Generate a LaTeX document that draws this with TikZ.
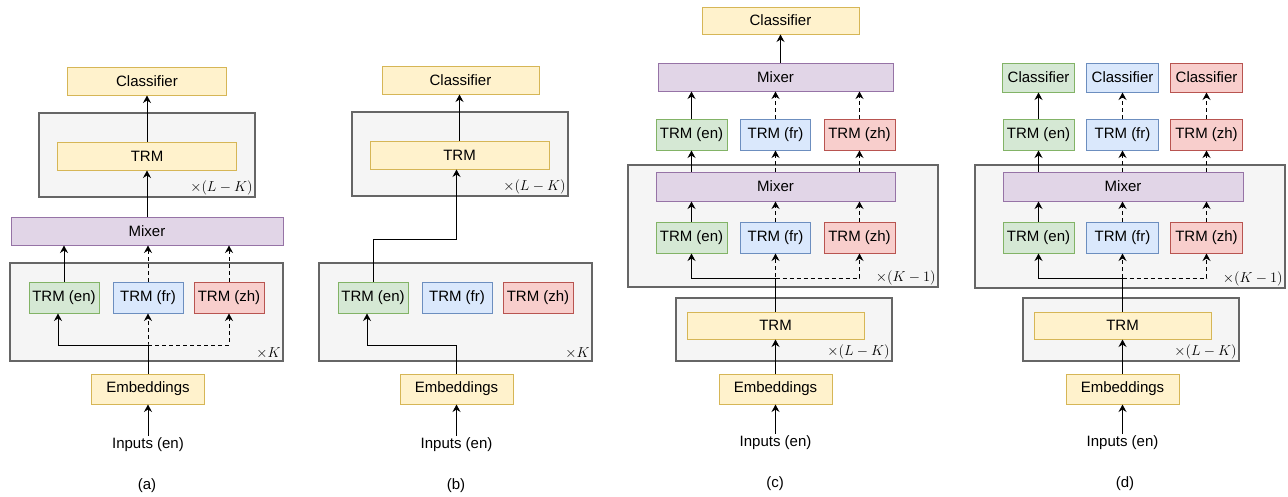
\documentclass[tikz,border=0pt]{standalone}
\usepackage{fontspec}
\setmainfont{Liberation Sans}
\usetikzlibrary{arrows.meta}

\definecolor{ylwfill}{HTML}{FFF2CC}
\definecolor{ylwline}{HTML}{D6B656}
\definecolor{grnfill}{HTML}{D5E8D4}
\definecolor{grnline}{HTML}{82B366}
\definecolor{blufill}{HTML}{DAE8FC}
\definecolor{bluline}{HTML}{6C8EBF}
\definecolor{redfill}{HTML}{F8CECC}
\definecolor{redline}{HTML}{B85450}
\definecolor{mixfill}{HTML}{E1D5E7}
\definecolor{mixline}{HTML}{9673A6}
\definecolor{grpfill}{HTML}{F5F5F5}
\definecolor{grpline}{HTML}{666666}

\begin{document}
\begin{tikzpicture}[x=1pt,y=-1pt,>={Stealth[length=7.5pt,width=8pt,inset=2.5pt]},
                    font=\fontsize{15}{18}\selectfont,node distance=84pt]
    \tikzset{box/.style={draw,rectangle,inner sep=0pt,line width=1pt,minimum height=28pt},
             ylw/.style={box,fill=ylwfill,draw=ylwline},
             grn/.style={box,fill=grnfill,draw=grnline},
             blu/.style={box,fill=blufill,draw=bluline},
             rd/.style={box,fill=redfill,draw=redline},
             mix/.style={box,fill=mixfill,draw=mixline},
             trm/.style={minimum width=70pt,minimum height=31pt},
             grp/.style={draw=grpline,fill=grpfill,line width=1.8pt,rectangle,inner sep=0pt},
             rep/.style={anchor=south east,inner sep=3pt,font=\fontsize{14}{16}\selectfont},
             link/.style={->,line width=1pt},
             dlink/.style={link,dash pattern=on 4pt off 3pt}}
    \useasboundingbox (0,0) rectangle (1288,496);

    % (a)
    \node[grp,minimum width=216pt,minimum height=84pt] (topA) at (147,155) {};
    \node[grp,minimum width=273pt,minimum height=98pt] (botA) at (146.5,312) {};
    \node[rep] (repA1) at (topA.south east) {$\times(L-K)$};
    \node[rep] (repA2) at (botA.south east) {$\times K$};
    \node[ylw,minimum width=159pt] (clsA) at (147,81) {Classifier};
    \node[ylw,minimum width=179pt] (trmA) at (147,156) {TRM};
    \node[mix,minimum width=272pt] (mixA) at (147,231) {Mixer};
    \node[grn,trm] (enA) at (64,297.5) {TRM (en)};
    \node[blu,trm] (frA) [right of=enA] {TRM (fr)};
    \node[rd,trm] (zhA) [right of=frA,node distance=81pt] {TRM (zh)};
    \node[ylw,minimum width=113pt,minimum height=30pt] (embA) at (148,389) {Embeddings};
    \node[inner sep=2pt] (inA) at (148,445) {Inputs (en)};
    \node (capA) at (147,486) {(a)};
    \coordinate (jA) at (148,345);
    \draw[link] (inA) -- (embA);
    \draw[link] (embA.north) -- (jA) -| ([xshift=-6pt]enA.south);
    \draw[dlink] (embA.north) -- (jA) -- (frA.south);
    \draw[dlink] (jA) -| (zhA.south);
    \draw[link] (enA.north) -- (enA.north |- mixA.south);
    \draw[dlink] (frA.north) -- (frA.north |- mixA.south);
    \draw[dlink] (zhA.north) -- (zhA.north |- mixA.south);
    \draw[link] (mixA.north) -- (trmA.south);
    \draw[link] (trmA.north) -- (clsA.south);

    % (b)
    \node[grp,minimum width=216pt,minimum height=84pt] (topB) at (460,154) {};
    \node[grp,minimum width=273pt,minimum height=98pt] (botB) at (455.5,312) {};
    \node[rep] (repB1) at (topB.south east) {$\times(L-K)$};
    \node[rep] (repB2) at (botB.south east) {$\times K$};
    \node[ylw,minimum width=157pt] (clsB) at (460.5,80) {Classifier};
    \node[ylw,minimum width=179pt] (trmB) at (459.5,155) {TRM};
    \node[grn,trm] (enB) at (373,297.5) {TRM (en)};
    \node[blu,trm] (frB) [right of=enB] {TRM (fr)};
    \node[rd,trm] (zhB) [right of=frB,node distance=81pt] {TRM (zh)};
    \node[ylw,minimum width=113pt,minimum height=30pt] (embB) at (456.5,389) {Embeddings};
    \node[inner sep=2pt] (inB) at (456.5,445) {Inputs (en)};
    \node (capB) at (456,486) {(b)};
    \coordinate (jB) at (456.5,345);
    \coordinate (bendB) at (456.5,239);
    \draw[link] (inB) -- (embB);
    \draw[link] (embB.north) -- (jB) -| ([xshift=-6pt]enB.south);
    \draw[link] (enB.north) |- (bendB) -- (bendB |- trmB.south);
    \draw[link] (trmB.north) -- (trmB.north |- clsB.south);

    % (c)
    \node[grp,minimum width=310pt,minimum height=122pt] (topC) at (783,226) {};
    \node[grp,minimum width=216pt,minimum height=63pt] (botC) at (784,329.5) {};
    \node[rep] (repC1) at (topC.south east) {$\times(K-1)$};
    \node[rep] (repC2) at (botC.south east) {$\times(L-K)$};
    \node[ylw,minimum width=157pt,minimum height=27pt] (clsC) at (780.5,20.5) {Classifier};
    \node[mix,minimum width=235pt] (mixC1) at (775.5,77) {Mixer};
    \node[grn,trm,minimum width=71pt] (enC1) at (691.5,134.5) {TRM (en)};
    \node[blu,trm] (frC1) [right of=enC1] {TRM (fr)};
    \node[rd,trm,minimum width=71pt] (zhC1) [right of=frC1] {TRM (zh)};
    \node[mix,minimum width=239pt,minimum height=29pt] (mixC2) at (775.5,186.5) {Mixer};
    \node[grn,trm,minimum width=71pt] (enC2) at (691.5,237.5) {TRM (en)};
    \node[blu,trm] (frC2) [right of=enC2] {TRM (fr)};
    \node[rd,trm,minimum width=71pt] (zhC2) [right of=frC2] {TRM (zh)};
    \node[ylw,minimum width=177pt,minimum height=27pt] (trmC) at (775.5,325.5) {TRM};
    \node[ylw,minimum width=113pt,minimum height=30pt] (embC) at (775.5,389) {Embeddings};
    \node[inner sep=2pt] (inC) at (775.5,443) {Inputs (en)};
    \node (capC) at (775,484) {(c)};
    \coordinate (jC) at (775.5,278);
    \draw[link] (inC) -- (embC);
    \draw[link] (embC.north) -- (trmC.south);
    \draw[link] (trmC.north) -- (jC) -| (enC2.south);
    \draw[dlink] (trmC.north) -- (jC) -- (frC2.south);
    \draw[dlink] (jC) -| (zhC2.south);
    \draw[link] (enC2.north) -- (enC2.north |- mixC2.south);
    \draw[dlink] (frC2.north) -- (frC2.north |- mixC2.south);
    \draw[dlink] (zhC2.north) -- (zhC2.north |- mixC2.south);
    \draw[link] (enC1.south |- mixC2.north) -- (enC1.south);
    \draw[dlink] (frC1.south |- mixC2.north) -- (frC1.south);
    \draw[dlink] (zhC1.south |- mixC2.north) -- (zhC1.south);
    \draw[link] (enC1.north) -- (enC1.north |- mixC1.south);
    \draw[dlink] (frC1.north) -- (frC1.north |- mixC1.south);
    \draw[dlink] (zhC1.north) -- (zhC1.north |- mixC1.south);
    \draw[link] (clsC.south |- mixC1.north) -- (clsC.south);

    % (d)
    \node[grp,minimum width=310pt,minimum height=123pt] (topD) at (1130,226.5) {};
    \node[grp,minimum width=216pt,minimum height=63pt] (botD) at (1131,329.5) {};
    \node[rep] (repD1) at (topD.south east) {$\times(K-1)$};
    \node[rep] (repD2) at (botD.south east) {$\times(L-K)$};
    \node[grn,trm,minimum width=72pt,minimum height=29pt] (clsDen) at (1038.5,77.5) {Classifier};
    \node[blu,trm,minimum width=72pt,minimum height=29pt] (clsDfr) [right of=clsDen] {Classifier};
    \node[rd,trm,minimum width=72pt,minimum height=29pt] (clsDzh) [right of=clsDfr] {Classifier};
    \node[grn,trm,minimum width=71pt] (enD1) at (1038.5,134.5) {TRM (en)};
    \node[blu,trm,minimum width=72pt] (frD1) [right of=enD1] {TRM (fr)};
    \node[rd,trm,minimum width=72pt] (zhD1) [right of=frD1] {TRM (zh)};
    \node[mix,minimum width=240pt,minimum height=29pt] (mixD) at (1123,186.5) {Mixer};
    \node[grn,trm,minimum width=71pt] (enD2) at (1038.5,237.5) {TRM (en)};
    \node[blu,trm,minimum width=72pt] (frD2) [right of=enD2] {TRM (fr)};
    \node[rd,trm,minimum width=72pt] (zhD2) [right of=frD2] {TRM (zh)};
    \node[ylw,minimum width=177pt,minimum height=27pt] (trmD) at (1122.5,325.5) {TRM};
    \node[ylw,minimum width=113pt,minimum height=30pt] (embD) at (1122.5,389) {Embeddings};
    \node[inner sep=2pt] (inD) at (1122.5,443) {Inputs (en)};
    \node (capD) at (1125,484) {(d)};
    \coordinate (jD) at (1122.5,278);
    \draw[link] (inD) -- (embD);
    \draw[link] (embD.north) -- (trmD.south);
    \draw[link] (trmD.north) -- (jD) -| (enD2.south);
    \draw[dlink] (jD) -- (frD2.south);
    \draw[dlink] (jD) -| (zhD2.south);
    \draw[link] (enD2.north) -- (enD2.north |- mixD.south);
    \draw[dlink] (frD2.north) -- (frD2.north |- mixD.south);
    \draw[dlink] (zhD2.north) -- (zhD2.north |- mixD.south);
    \draw[link] (enD1.south |- mixD.north) -- (enD1.south);
    \draw[dlink] (frD1.south |- mixD.north) -- (frD1.south);
    \draw[dlink] (zhD1.south |- mixD.north) -- (zhD1.south);
    \draw[link] (enD1.north) -- (clsDen.south);
    \draw[dlink] (frD1.north) -- (clsDfr.south);
    \draw[dlink] (zhD1.north) -- (clsDzh.south);
\end{tikzpicture}
\end{document}
